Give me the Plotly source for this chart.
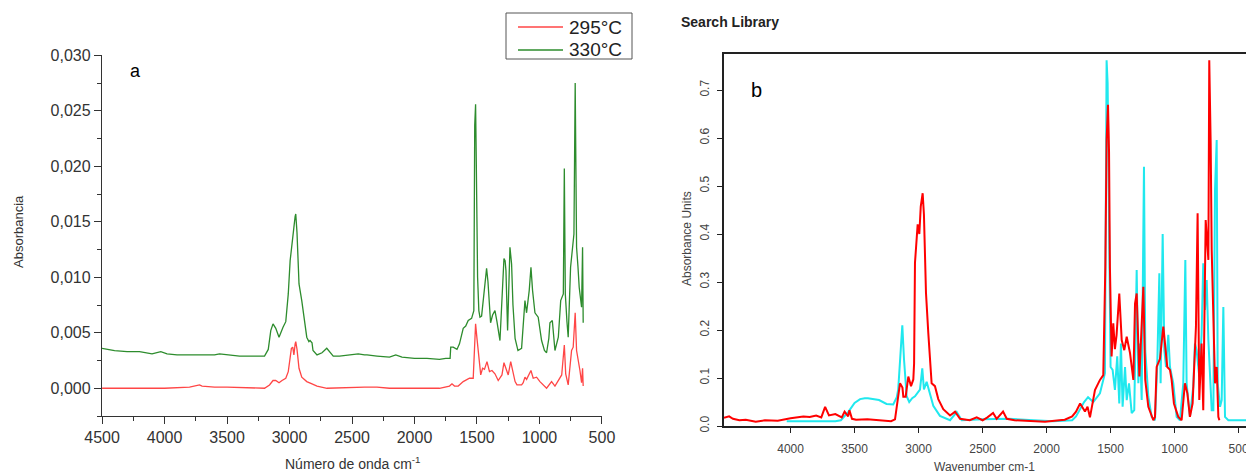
import plotly.graph_objects as go

W, H = 1246, 476

# ---------------- Panel a data (wavenumber cm-1, absorbance) ----------------
a_green_wn = [4500, 4450, 4400, 4300, 4200, 4100, 4030, 3980, 3900, 3800, 3700, 3600, 3560, 3500,
              3400, 3300, 3200, 3170, 3150, 3132, 3110, 3084, 3065, 3052, 3030, 3010, 2995, 2983,
              2975, 2965, 2955, 2950, 2940, 2930, 2924, 2902, 2880, 2862, 2845, 2836, 2820, 2812,
              2780, 2740, 2702, 2680, 2650, 2600, 2500, 2450, 2400, 2380, 2300, 2200, 2150, 2100,
              2000, 1900, 1800, 1750, 1715, 1710, 1690, 1660, 1640, 1610, 1590, 1570, 1543, 1525,
              1518, 1511, 1505, 1495, 1485, 1476, 1463, 1452, 1435, 1423, 1412, 1400, 1391, 1375,
              1356, 1340, 1316, 1300, 1284, 1275, 1268, 1255, 1245, 1236, 1223, 1212, 1195, 1172,
              1143, 1125, 1116, 1103, 1082, 1068, 1055, 1036, 1010, 983, 960, 943, 925, 916, 897,
              876, 849, 830, 809, 801, 793, 780, 770, 751, 735, 724, 714, 703, 692, 682, 663, 655, 650]
a_green_abs = [0.0036, 0.0035, 0.0034, 0.0033, 0.0033, 0.0031, 0.0033, 0.0031, 0.0030, 0.0030, 0.0030,
               0.0030, 0.0031, 0.0030, 0.0029, 0.0029, 0.0029, 0.0035, 0.0052, 0.0058, 0.0054, 0.0046,
               0.0052, 0.0055, 0.0060, 0.0085, 0.0115, 0.0130, 0.0137, 0.0145, 0.0155, 0.0157, 0.0140,
               0.0110, 0.0094, 0.0079, 0.0062, 0.0046, 0.0042, 0.0043, 0.0041, 0.0034, 0.0030, 0.0032,
               0.0036, 0.0033, 0.0029, 0.0029, 0.0030, 0.0031, 0.0030, 0.0030, 0.0029, 0.0028, 0.0030,
               0.0028, 0.0027, 0.0027, 0.0026, 0.0027, 0.0027, 0.0037, 0.0037, 0.0035, 0.0040, 0.0054,
               0.0056, 0.0061, 0.0063, 0.0070, 0.0237, 0.0256, 0.0200, 0.0100, 0.0070, 0.0064, 0.0065,
               0.0077, 0.0095, 0.0108, 0.0096, 0.0075, 0.0059, 0.0066, 0.0070, 0.0060, 0.0043, 0.0080,
               0.0117, 0.0115, 0.0106, 0.0052, 0.0100, 0.0127, 0.0112, 0.0075, 0.0045, 0.0034, 0.0036,
               0.0060, 0.0079, 0.0068, 0.0088, 0.0109, 0.0088, 0.0068, 0.0064, 0.0043, 0.0034, 0.0032,
               0.0045, 0.0059, 0.0061, 0.0034, 0.0046, 0.0079, 0.0085, 0.0198, 0.0085, 0.0060, 0.0046,
               0.0109, 0.0127, 0.0139, 0.0275, 0.0127, 0.0110, 0.0091, 0.0073, 0.0127, 0.0059]

a_red_wn = [4500, 4300, 4000, 3800, 3720, 3700, 3600, 3500, 3300, 3200, 3160, 3132, 3110, 3084, 3060,
            3030, 3010, 2995, 2985, 2974, 2965, 2955, 2950, 2940, 2924, 2902, 2880, 2862, 2820, 2780,
            2700, 2500, 2400, 2300, 2200, 2000, 1800, 1720, 1700, 1680, 1650, 1610, 1560, 1530, 1518,
            1511, 1500, 1490, 1470, 1455, 1440, 1420, 1400, 1380, 1356, 1330, 1300, 1284, 1265, 1250,
            1230, 1215, 1195, 1180, 1143, 1130, 1116, 1103, 1068, 1050, 1023, 996, 943, 903, 876, 822,
            801, 790, 770, 743, 730, 714, 703, 676, 663, 655, 650]
a_red_abs = [0.0000, 0.0000, 0.0000, 0.0001, 0.0003, 0.0002, 0.0001, 0.0001, 0.0000, 0.0000, 0.0003,
             0.0007, 0.0007, 0.0005, 0.0007, 0.0009, 0.0015, 0.0030, 0.0036, 0.0037, 0.0030, 0.0040,
             0.0042, 0.0035, 0.0018, 0.0010, 0.0008, 0.0006, 0.0004, 0.0002, 0.0000, 0.0001, 0.0001,
             0.0001, 0.0000, 0.0000, 0.0000, 0.0002, 0.0004, 0.0002, 0.0002, 0.0006, 0.0009, 0.0009,
             0.0035, 0.0058, 0.0045, 0.0034, 0.0012, 0.0018, 0.0017, 0.0024, 0.0015, 0.0016, 0.0013,
             0.0007, 0.0012, 0.0023, 0.0016, 0.0012, 0.0024, 0.0016, 0.0006, 0.0003, 0.0003, 0.0005,
             0.0010, 0.0008, 0.0016, 0.0009, 0.0010, 0.0006, 0.0000, 0.0006, 0.0002, 0.0012, 0.0039,
             0.0013, 0.0003, 0.0034, 0.0037, 0.0068, 0.0034, 0.0016, 0.0005, 0.0018, 0.0002]

legend_labels = ["295°C", "330°C"]

# ---------------- Panel b data ----------------
b_red_wn = [4520, 4480, 4450, 4400, 4350, 4272, 4200, 4100, 4000, 3950, 3900, 3850, 3800, 3760, 3730,
            3700, 3650, 3600, 3578, 3550, 3540, 3520, 3488, 3400, 3300, 3215, 3184, 3170, 3145, 3126,
            3119, 3101, 3080, 3059, 3041, 3035, 3028, 3007, 2994, 2983, 2968, 2958, 2942, 2924, 2898,
            2872, 2846, 2807, 2754, 2715, 2676, 2600, 2546, 2500, 2462, 2418, 2390, 2340, 2311, 2250,
            2100, 2012, 1900, 1858, 1800, 1770, 1738, 1700, 1680, 1661, 1622, 1583, 1557, 1541, 1531,
            1520, 1512, 1505, 1492, 1479, 1466, 1453, 1432, 1413, 1393, 1374, 1348, 1322, 1309, 1296,
            1275, 1257, 1244, 1229, 1205, 1166, 1153, 1140, 1114, 1088, 1075, 1057, 1036, 1023, 1005,
            971, 945, 919, 900, 880, 859, 833, 820, 807, 789, 776, 757, 747, 736, 729, 718, 710, 697,
            684, 671, 658, 650]
b_red_abs = [0.017, 0.020, 0.015, 0.012, 0.013, 0.009, 0.012, 0.011, 0.016, 0.018, 0.020, 0.019, 0.022,
             0.018, 0.040, 0.022, 0.025, 0.018, 0.030, 0.020, 0.033, 0.015, 0.013, 0.014, 0.012, 0.010,
             0.014, 0.040, 0.089, 0.080, 0.061, 0.061, 0.103, 0.083, 0.097, 0.130, 0.340, 0.420, 0.400,
             0.457, 0.485, 0.440, 0.277, 0.194, 0.089, 0.083, 0.056, 0.035, 0.022, 0.030, 0.015, 0.012,
             0.018, 0.012, 0.018, 0.027, 0.015, 0.030, 0.015, 0.012, 0.010, 0.009, 0.012, 0.013, 0.020,
             0.030, 0.047, 0.030, 0.040, 0.018, 0.075, 0.096, 0.106, 0.330, 0.596, 0.669, 0.570, 0.330,
             0.145, 0.214, 0.160, 0.190, 0.276, 0.179, 0.158, 0.186, 0.152, 0.096, 0.255, 0.276, 0.103,
             0.228, 0.290, 0.096, 0.040, 0.012, 0.019, 0.123, 0.140, 0.207, 0.172, 0.123, 0.117, 0.096,
             0.047, 0.019, 0.012, 0.089, 0.068, 0.019, 0.047, 0.207, 0.443, 0.054, 0.172, 0.033, 0.429,
             0.394, 0.346, 0.762, 0.589, 0.367, 0.214, 0.089, 0.123, 0.019, 0.012]

b_cyan_wn = [4030, 3800, 3650, 3607, 3547, 3500, 3457, 3420, 3396, 3309, 3250, 3198, 3170, 3159, 3145,
             3132, 3127, 3114, 3093, 3073, 3050, 3028, 2989, 2971, 2958, 2937, 2916, 2885, 2833, 2754,
             2702, 2663, 2500, 2300, 2100, 1950, 1800, 1770, 1707, 1676, 1635, 1583, 1544, 1539, 1531,
             1523, 1518, 1510, 1500, 1484, 1466, 1448, 1432, 1419, 1406, 1387, 1374, 1356, 1335, 1315,
             1296, 1283, 1270, 1257, 1239, 1229, 1205, 1179, 1153, 1135, 1119, 1109, 1093, 1080, 1067,
             1049, 1036, 1010, 984, 958, 932, 916, 906, 880, 854, 841, 828, 807, 789, 776, 762, 749, 736,
             710, 697, 684, 671, 663, 645, 632, 619, 606, 580, 442]
b_cyan_abs = [0.010, 0.010, 0.010, 0.012, 0.030, 0.048, 0.056, 0.058, 0.058, 0.054, 0.046, 0.045, 0.060,
              0.076, 0.130, 0.200, 0.210, 0.140, 0.062, 0.050, 0.058, 0.062, 0.076, 0.120, 0.076, 0.092,
              0.070, 0.042, 0.021, 0.012, 0.029, 0.012, 0.014, 0.015, 0.012, 0.010, 0.012, 0.020, 0.050,
              0.060, 0.050, 0.068, 0.110, 0.330, 0.762, 0.714, 0.568, 0.262, 0.123, 0.117, 0.075, 0.145,
              0.047, 0.172, 0.040, 0.123, 0.054, 0.089, 0.027, 0.033, 0.325, 0.089, 0.172, 0.054, 0.540,
              0.158, 0.061, 0.019, 0.012, 0.130, 0.318, 0.089, 0.400, 0.158, 0.123, 0.190, 0.123, 0.089,
              0.019, 0.012, 0.089, 0.346, 0.089, 0.019, 0.082, 0.172, 0.158, 0.103, 0.190, 0.339, 0.242,
              0.304, 0.179, 0.033, 0.033, 0.492, 0.596, 0.089, 0.040, 0.054, 0.248, 0.019, 0.012, 0.012]

a_y_ticks = [0.000, 0.005, 0.010, 0.015, 0.020, 0.025, 0.030]
a_x_ticks = [4500, 4000, 3500, 3000, 2500, 2000, 1500, 1000, 500]
b_y_ticks = [0.0, 0.1, 0.2, 0.3, 0.4, 0.5, 0.6, 0.7]
b_x_ticks = [4000, 3500, 3000, 2500, 2000, 1500, 1000, 500]


def px(x):
    return x / W


def py(y):
    return 1 - y / H


FONT = "Liberation Sans, Arial, sans-serif"
RED_A = "rgb(255,70,70)"
GREEN_A = "rgb(45,140,45)"

fig = go.Figure()

fig.add_trace(go.Scatter(x=a_red_wn, y=a_red_abs, mode="lines", name=legend_labels[0],
                         showlegend=False,
                         line=dict(color=RED_A, width=1.3), xaxis="x", yaxis="y"))
fig.add_trace(go.Scatter(x=a_green_wn, y=a_green_abs, mode="lines", name=legend_labels[1],
                         showlegend=False,
                         line=dict(color=GREEN_A, width=1.3), xaxis="x", yaxis="y"))
fig.add_trace(go.Scatter(x=b_cyan_wn, y=b_cyan_abs, mode="lines", showlegend=False,
                         line=dict(color="#20e8ee", width=2), xaxis="x2", yaxis="y2"))
fig.add_trace(go.Scatter(x=b_red_wn, y=b_red_abs, mode="lines", showlegend=False,
                         line=dict(color="#ff0000", width=2), xaxis="x2", yaxis="y2"))

axis_a = dict(showline=True, linecolor="#333", linewidth=1.3, ticks="outside", ticklen=7,
              tickcolor="#333", tickwidth=1.3, showgrid=False, zeroline=False, automargin=False,
              tickfont=dict(family=FONT, size=16, color="#333"))
axis_b = dict(showline=True, linecolor="#222", linewidth=1.5, ticks="outside", ticklen=5,
              tickcolor="#222", tickwidth=1.3, showgrid=False, zeroline=False, automargin=False,
              ticklabeloverflow="allow",
              tickfont=dict(family=FONT, size=12, color="#444"))

# legend box for panel a (box, line samples, labels)
legend_shapes = [
    dict(type="rect", xref="paper", yref="paper", x0=px(506), x1=px(632), y0=py(59), y1=py(13),
         line=dict(color="#555", width=1), fillcolor="white", layer="above"),
    dict(type="line", xref="paper", yref="paper", x0=px(518), x1=px(563), y0=py(27), y1=py(27),
         line=dict(color=RED_A, width=1.3), layer="above"),
    dict(type="line", xref="paper", yref="paper", x0=px(518), x1=px(563), y0=py(50), y1=py(50),
         line=dict(color=GREEN_A, width=1.3), layer="above"),
]
legend_texts = [
    dict(text=legend_labels[0], x=px(567), y=py(27), xref="paper", yref="paper", showarrow=False,
         xanchor="left", yanchor="middle", font=dict(family=FONT, size=19, color="#222")),
    dict(text=legend_labels[1], x=px(567), y=py(50), xref="paper", yref="paper", showarrow=False,
         xanchor="left", yanchor="middle", font=dict(family=FONT, size=19, color="#222")),
]

fig.update_layout(
    width=W, height=H,
    margin=dict(l=0, r=0, t=0, b=0, autoexpand=False),
    paper_bgcolor="white", plot_bgcolor="white",
    font=dict(family=FONT),
    showlegend=False,
    xaxis=dict(axis_a, domain=[px(102), px(602)], range=[4500.5, 499.5],
               tickvals=a_x_ticks, ticktext=[str(v) for v in a_x_ticks],
               minor=dict(dtick=250, ticks="outside", ticklen=4, tickcolor="#333"),
               anchor="y"),
    yaxis=dict(axis_a, domain=[py(416), py(55)], range=[-0.0025, 0.03003],
               tickvals=a_y_ticks, ticktext=[f"{v:.3f}".replace(".", ",") for v in a_y_ticks],
               minor=dict(tickvals=[v + 0.0025 for v in a_y_ticks] + [-0.0025], ticks="outside",
                          ticklen=4, tickcolor="#333"),
               anchor="x"),
    xaxis2=dict(axis_b, domain=[px(724), 1.0], range=[4520, 442], mirror=True,
                tickvals=b_x_ticks, ticktext=[str(v) for v in b_x_ticks],
                ticklabelstandoff=6, anchor="y2"),
    yaxis2=dict(axis_b, domain=[py(426), py(54)], range=[0, 0.775],
                tickvals=b_y_ticks, ticktext=[f"{v:.1f}" for v in b_y_ticks],
                tickangle=-90, ticklabelstandoff=3, anchor="x2"),
    shapes=legend_shapes,
    annotations=legend_texts + [
        dict(text="a", x=px(135), y=py(71), xref="paper", yref="paper", showarrow=False,
             xanchor="center", yanchor="middle",
             font=dict(family=FONT, size=18, color="black")),
        dict(text="b", x=px(756), y=py(90), xref="paper", yref="paper", showarrow=False,
             xanchor="center", yanchor="middle",
             font=dict(family=FONT, size=20, color="black")),
        dict(text="Absorbancia", x=px(18), y=py(232), xref="paper", yref="paper",
             xanchor="center", yanchor="middle",
             showarrow=False, textangle=-90, font=dict(family=FONT, size=13, color="#333")),
        dict(text="Número de onda cm<sup>-1</sup>", x=px(353), y=py(463), xref="paper",
             xanchor="center", yanchor="middle",
             yref="paper", showarrow=False, font=dict(family=FONT, size=14, color="#333")),
        dict(text="<b>Search Library</b>", x=px(679), y=py(22), xref="paper", yref="paper",
             xanchor="left", yanchor="middle", showarrow=False,
             font=dict(family=FONT, size=14, color="#222")),
        dict(text="Absorbance Units", x=px(687), y=py(238), xref="paper", yref="paper",
             xanchor="center", yanchor="middle",
             showarrow=False, textangle=-90, font=dict(family=FONT, size=12, color="#444")),
        dict(text="Wavenumber cm-1", x=px(985), y=py(467), xref="paper", yref="paper",
             xanchor="center", yanchor="middle",
             showarrow=False, font=dict(family=FONT, size=12, color="#444")),
    ],
)

fig.write_html("out.html")
